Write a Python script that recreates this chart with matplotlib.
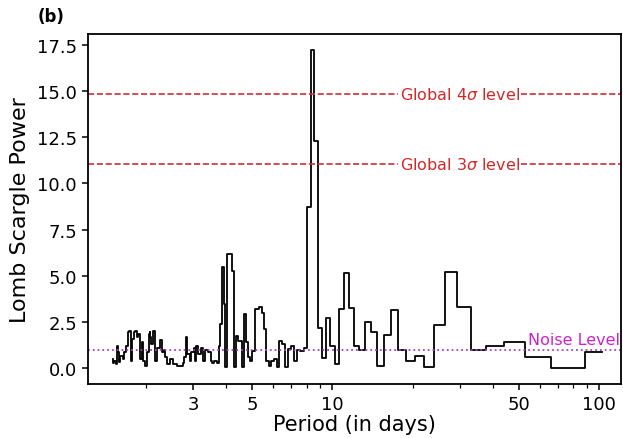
import numpy as np
import matplotlib
matplotlib.use("Agg")
import matplotlib.pyplot as plt
from matplotlib.ticker import FixedLocator, NullFormatter, FixedFormatter

# Frequency grid of the periodogram (1/day): start and spacing
FREQ_START = 0.00975
FREQ_STEP = 0.00376

# Lomb-Scargle power, from the longest period (lowest frequency) to the shortest
power = [
    0.85, 0.03, 0.61, 1.43, 1.21, 0.97, 3.32, 5.22, 2.33, 0.07,
    0.67, 0.40, 0.97, 3.15, 1.80, 0.12, 1.97, 2.50, 0.97, 1.20,
    3.25, 5.15, 3.20, 0.20, 1.20, 2.70, 0.54, 2.17, 12.3, 17.2,
    8.7,
    1.1, 0.95, 1.0, 0.4, 1.2, 1.03, 0.05, 1.3, 1.48, 0.05,
    0.49, 0.4, 0.12, 0.4, 2.1, 3.0, 3.3, 3.2, 3.2, 0.94,
    0.4, 0.6, 1.4, 2.93, 0.05, 1.48, 1.48, 1.75, 0.05, 5.27,
    6.18, 6.18, 6.18, 0.05, 3.47, 5.46, 2.4, 1.2, 0.3,
    0.4, 0.4, 0.3, 0.4, 0.85, 0.85, 1.0, 1.0, 0.4, 1.1,
    1.1, 0.75, 0.75, 1.2, 0.4, 1.1, 0.85, 0.85, 0.4, 0.75, 0.75,
    1.7, 0.6, 0.6, 0.3, 0.1, 0.1, 0.1, 0.1, 0.1, 0.2,
    0.2, 0.2, 0.5, 0.5, 0.5, 0.2, 0.2, 0.2, 0.6, 0.6,
    1.0, 0.85, 0.85, 1.5, 1.5, 1.1, 1.1, 1.1, 0.4, 0.4,
    2.0, 2.0, 1.3, 1.3, 1.66, 1.95, 1.85, 0.86, 0.86, 0.12,
    0.12, 0.4, 0.4, 1.39, 1.39, 0.5, 0.5, 1.85, 1.85, 1.66,
    1.66, 2.0, 2.0, 1.95, 1.95, 1.57, 1.57, 0.4, 0.4, 2.02,
    2.02, 1.95, 1.95, 1.2, 1.2, 0.86, 0.86, 0.86, 0.5, 0.5,
    0.67, 0.67, 0.67, 0.32, 0.32, 0.86, 0.86, 1.2, 0.2, 0.2,
    0.4, 0.4, 0.4, 0.3, 0.5,
]
assert len(power) == 176

sigma4_level = 14.84
sigma3_level = 11.07
noise_level = 1.0

major_ticks = [3, 5, 10, 50, 100]
major_labels = ["3", "5", "10", "50", "100"]
minor_ticks = [2, 4, 6, 7, 8, 9, 20, 30, 40, 60, 70, 80, 90]

freq = FREQ_START + FREQ_STEP * np.arange(len(power))
period = 1.0 / freq

fig = plt.figure(figsize=(6.23, 4.39), dpi=100)
ax = fig.add_axes([88 / 623, 1 - 385 / 439, (621 - 88) / 623, (385 - 35) / 439])

ax.step(period, power, where="mid", color="black", lw=1.3)

line_red = "#c8303a"
text_red = "#d62728"
ax.axhline(sigma4_level, color=line_red, ls="--", lw=1.2)
ax.axhline(sigma3_level, color=line_red, ls="--", lw=1.2)
ax.axhline(noise_level, color="#a347b8", ls=":", lw=1.3)

bbox = dict(facecolor="white", edgecolor="none", pad=1.0)
ax.text(30, sigma4_level, r"Global 4$\sigma$ level", color=text_red, fontsize=11.5,
        ha="center", va="center", bbox=bbox)
ax.text(30, sigma3_level, r"Global 3$\sigma$ level", color=text_red, fontsize=11.5,
        ha="center", va="center", bbox=bbox)
ax.text(120, noise_level + 0.12, "Noise Level", color="#cc22cc", fontsize=11.5,
        ha="right", va="bottom")

ax.set_xscale("log")
ax.set_xlim(1.21, 121)
ax.set_ylim(-0.86, 18.08)
ax.xaxis.set_major_locator(FixedLocator(major_ticks))
ax.xaxis.set_major_formatter(FixedFormatter(major_labels))
ax.xaxis.set_minor_locator(FixedLocator(minor_ticks))
ax.xaxis.set_minor_formatter(NullFormatter())
ax.set_yticks(np.arange(0, 17.6, 2.5))

ax.tick_params(axis="both", which="major", labelsize=13, length=4.5, width=1.1)
ax.tick_params(axis="x", which="minor", length=3, width=0.9)
for s in ax.spines.values():
    s.set_linewidth(1.3)

ax.set_xlabel("Period (in days)", fontsize=15, labelpad=1)
ax.set_ylabel("Lomb Scargle Power", fontsize=16, labelpad=5)

fig.text(38 / 623, 1 - 17 / 439, "(b)", fontsize=12, fontweight="bold",
         ha="left", va="center")

fig.savefig("out.png", dpi=100)
